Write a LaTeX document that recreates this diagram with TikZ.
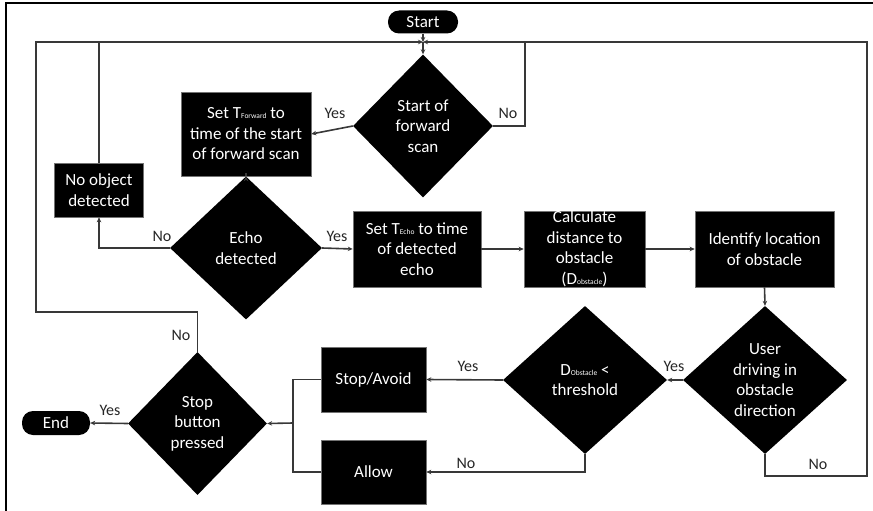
\documentclass[tikz,border=0pt]{standalone}
\usepackage{fontspec}
\setmainfont{Carlito}
\usetikzlibrary{shapes.geometric,arrows.meta}
\newcommand{\subtxt}[1]{{\fontsize{7.5}{8}\selectfont #1}}
\begin{document}
\begin{tikzpicture}[x=1pt,y=-1pt,
  ln/.style={draw=black!78, line width=1.6pt},
  arr/.style={ln,-{Stealth[length=5pt,width=4.5pt]}},
  txt/.style={text=white, align=center, font=\fontsize{17}{20.5}\selectfont},
  box/.style={rectangle, fill=black, draw=black!55, line width=0.6pt, txt, inner sep=0pt},
  dia/.style={diamond, fill=black, inner sep=0pt},
  term/.style={rectangle, rounded corners=11pt, fill=black, txt, inner sep=0pt},
  lab/.style={text=black!85, font=\fontsize{16}{18}\selectfont, inner sep=0pt}]
\useasboundingbox (0,0) rectangle (873,511);
\draw[line width=1.4pt] (6,511) -- (6,3) -- (873,3);

% nodes
\node[term, minimum width=70pt, minimum height=23pt] (start) at (423,22) {Start};
\node[dia, minimum width=140pt, minimum height=143pt, label={[txt]center:Start of\\forward\\scan}] (d1) at (423,126) {};
\node[box, minimum width=130pt, minimum height=84pt] (b1) at (246,134) {Set T\subtxt{Forward} to\\time of the start\\of forward scan};
\node[dia, minimum width=152pt, minimum height=143pt, label={[txt]center:Echo\\detected}] (d2) at (246,248) {};
\node[box, minimum width=89pt, minimum height=54pt] (b0) at (99,190) {No object\\detected};
\node[box, minimum width=128pt, minimum height=76pt] (b2) at (417,249) {Set T\subtxt{Echo} to time\\of detected\\echo};
\node[box, minimum width=121pt, minimum height=76pt] (b3) at (584.5,249) {Calculate\\distance to\\obstacle\\(D\subtxt{obstacle})};
\node[box, minimum width=139pt, minimum height=76pt] (b4) at (764.5,249) {Identify location\\of obstacle};
\node[dia, minimum width=164pt, minimum height=148pt, label={[txt]center:User\\driving in\\obstacle\\direction}] (d3) at (765,380) {};
\node[dia, minimum width=164pt, minimum height=148pt, label={[txt]center:D\subtxt{Obstacle} <\\threshold}] (d4) at (585,380) {};
\node[box, minimum width=105pt, minimum height=65pt] (b5) at (373.5,379.5) {Stop/Avoid};
\node[box, minimum width=105pt, minimum height=64pt] (b6) at (373.5,472) {Allow};
\node[dia, minimum width=139pt, minimum height=143pt, label={[txt]center:Stop\\button\\pressed}] (d5) at (197.5,423.5) {};
\node[term, minimum width=68pt, minimum height=24pt] (end) at (56,423) {End};

% coordinates
\coordinate (jn) at (423,42);
\coordinate (tl) at (36,42);
\coordinate (tr) at (867,42);
\coordinate (br) at (867,476);
\coordinate (nr) at (525,42);
\coordinate (m) at (293,423);

% connectors
\draw[arr] (start) -- (jn);
\draw[arr] (jn) -- (d1.north);
\draw[arr] (d5.north) -- ++(0,-40) -| (tl) -- (jn);
\draw[ln] (b0.north) -- (b0.north |- tl);
\draw[ln] (d1.east) -| (nr);
\draw[arr] (d3.south) |- (br) -- (tr) -- (jn);
\draw[arr] (d1.west) -- (b1.east);
\draw[arr] (b1.south) -- (d2.north);
\draw[arr] (d2.west) -| (b0.south);
\draw[arr] (d2.east) -- (b2.west);
\draw[arr] (b2.east) -- (b3.west);
\draw[arr] (b3.east) -- (b4.west);
\draw[arr] (b4.south) -- (d3.north);
\draw[arr] (d3.west) -- (d4.east);
\draw[arr] (d4.west) -- (b5.east);
\draw[arr] (d4.south) |- (b6.east);
\draw[ln] (b5.west) -| (m);
\draw[ln] (b6.west) -| (m);
\draw[arr] (m) -- (d5.east);
\draw[arr] (d5.west) -- (end.east);

% labels
\node[lab] (l1) at (335,113) {Yes};
\node[lab] (l2) at (508,113) {No};
\node[lab] (l3) at (162,236) {No};
\node[lab] (l4) at (337,236) {Yes};
\node[lab] (l5) at (674,366) {Yes};
\node[lab] (l6) at (468,366) {Yes};
\node[lab] (l7) at (466,463) {No};
\node[lab] (l8) at (818,464) {No};
\node[lab] (l9) at (181,335) {No};
\node[lab] (l10) at (110,410) {Yes};
\end{tikzpicture}
\end{document}
